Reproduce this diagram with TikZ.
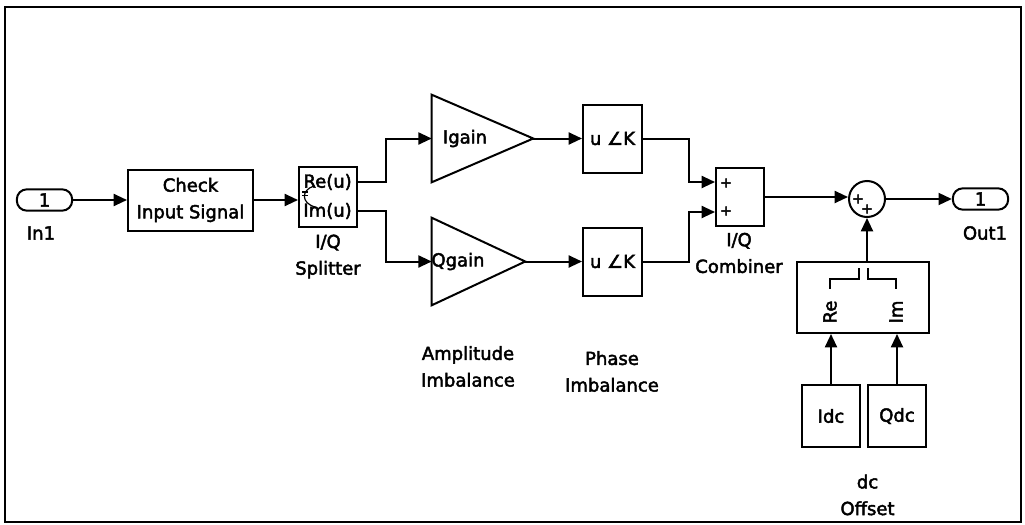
\documentclass[tikz,border=0pt]{standalone}
\usepackage{fontspec}
\newfontfamily\simfont{DejaVu Sans}[FakeBold=2.5]
\usetikzlibrary{arrows.meta,positioning,calc}

\tikzset{
  blk/.style={draw, line width=1.5pt, inner sep=0pt},
  port/.style={draw, line width=1.5pt, rounded corners=7.5pt, minimum width=41.5pt, minimum height=16pt, inner sep=0pt},
  sig/.style={line width=1.5pt, -{Triangle[length=10pt,width=9pt]}},
  wire/.style={line width=1.5pt},
  lbl/.style={align=center, inner sep=0pt},
  sgn/.style={inner sep=0pt, font=\simfont\fontsize{10.5}{12}\selectfont},
}

\begin{document}
\begin{tikzpicture}[x=0.75pt, y=-0.75pt, font=\simfont\fontsize{13.5}{20}\selectfont]
  \useasboundingbox (0,0) rectangle (1025,525);
  \draw [line width=1.2pt] (5,7) rectangle (1021,522);

  % input and check block
  \node [port] (in1) at (44.5,200) {1};
  \node [lbl] (in1lbl) at (41,233) {In1};
  \node [blk, minimum width=93.75pt, minimum height=45.75pt, align=center] (check) at (190.5,200) {Check\\Input Signal};

  % splitter
  \node [blk, minimum width=43.5pt, minimum height=45pt] (split) at (328,197) {};
  \node [lbl, anchor=east] (splre) at (352,182) {Re(u)};
  \node [lbl, anchor=east] (splim) at (352,211) {Im(u)};
  \draw [line width=0.9pt] (314,186) .. controls (301,190) and (301,203) .. (315,207);
  \draw [line width=0.9pt] (302,192) -- (308,192) (302,195.5) -- (308,195.5);
  \node [lbl] (splitlbl) at (328,256.5) {I/Q\\Splitter};

  % gains
  \node [minimum width=75.75pt, minimum height=65.25pt, inner sep=0pt] (igain) at (482.5,138.5) {};
  \draw [wire] (igain.north west) -- (igain.east) -- (igain.south west) -- cycle;
  \node [lbl] (igaintxt) at (465,138.5) {Igain};
  \node [minimum width=69.75pt, minimum height=65.25pt, inner sep=0pt] (qgain) at (478.5,261.5) {};
  \draw [wire] (qgain.north west) -- (qgain.east) -- (qgain.south west) -- cycle;
  \node [lbl] (qgaintxt) at (458,261.5) {Qgain};
  \node [lbl] (amplbl) at (468,366.5) {Amplitude\\Imbalance};

  % phase
  \node [blk, minimum width=44.25pt, minimum height=51pt] (uk1) at (612.5,138.5) {u ∠K};
  \node [blk, minimum width=44.25pt, minimum height=51pt] (uk2) at (612.5,261.5) {u ∠K};
  \node [lbl] (phlbl) at (612,371.5) {Phase\\Imbalance};

  % combiner
  \node [blk, minimum width=36pt, minimum height=43.5pt] (comb) at (740,197) {};
  \coordinate (combin1) at ($(comb.north west)!0.25!(comb.south west)$);
  \coordinate (combin2) at ($(comb.north west)!0.75!(comb.south west)$);
  \node [sgn] (cp1) at (726,183) {+};
  \node [sgn] (cp2) at (726,211) {+};
  \node [lbl] (comblbl) at (739,253) {I/Q\\Combiner};

  % dc offset
  \node [draw, circle, line width=1.5pt, minimum size=27pt, inner sep=0pt] (sum) at (867,199) {};
  \node [sgn] (sp1) at (858,199) {+};
  \node [sgn] (sp2) at (867,209) {+};
  \node [port] (out1) at (980.5,199) {1};
  \node [lbl] (out1lbl) at (985,233) {Out1};
  \node [blk, minimum width=99pt, minimum height=53.25pt] (ri2c) at (863,297.5) {};
  \draw [wire] (859,268) -- (859,279) -- (830,279) -- (830,289);
  \draw [wire] (868,268) -- (868,279) -- (896,279) -- (896,289);
  \node [lbl, rotate=90] (relbl) at (830,312) {Re};
  \node [lbl, rotate=90] (imlbl) at (896,312) {Im};
  \node [blk, minimum width=43.5pt, minimum height=46.5pt] (idc) at (831,416) {Idc};
  \node [blk, minimum width=43.5pt, minimum height=46.5pt] (qdc) at (897,416) {Qdc};
  \node [lbl] (dclbl) at (867.5,495) {dc\\Offset};

  % signals
  \draw [sig] (in1.east) -- (in1.east -| check.west);
  \draw [sig] (check.east) -- (check.east -| split.west);
  \draw [sig] (split.east |- splre) -- ++(28,0) |- (igain.west);
  \draw [sig] (split.east |- splim) -- ++(28,0) |- (qgain.west);
  \draw [sig] (igain.east) -- (uk1.west);
  \draw [sig] (qgain.east) -- (uk2.west);
  \draw [sig] (uk1.east) -- ++(46,0) |- (combin1);
  \draw [sig] (uk2.east) -- ++(46,0) |- (combin2);
  \draw [sig] (comb.east) -- (comb.east -| sum.west);
  \draw [sig] (sum.east) -- (out1.west);
  \draw [sig] (sum.south |- ri2c.north) -- (sum.south);
  \draw [sig] (idc.north) -- (idc.north |- ri2c.south);
  \draw [sig] (qdc.north) -- (qdc.north |- ri2c.south);
\end{tikzpicture}
\end{document}
